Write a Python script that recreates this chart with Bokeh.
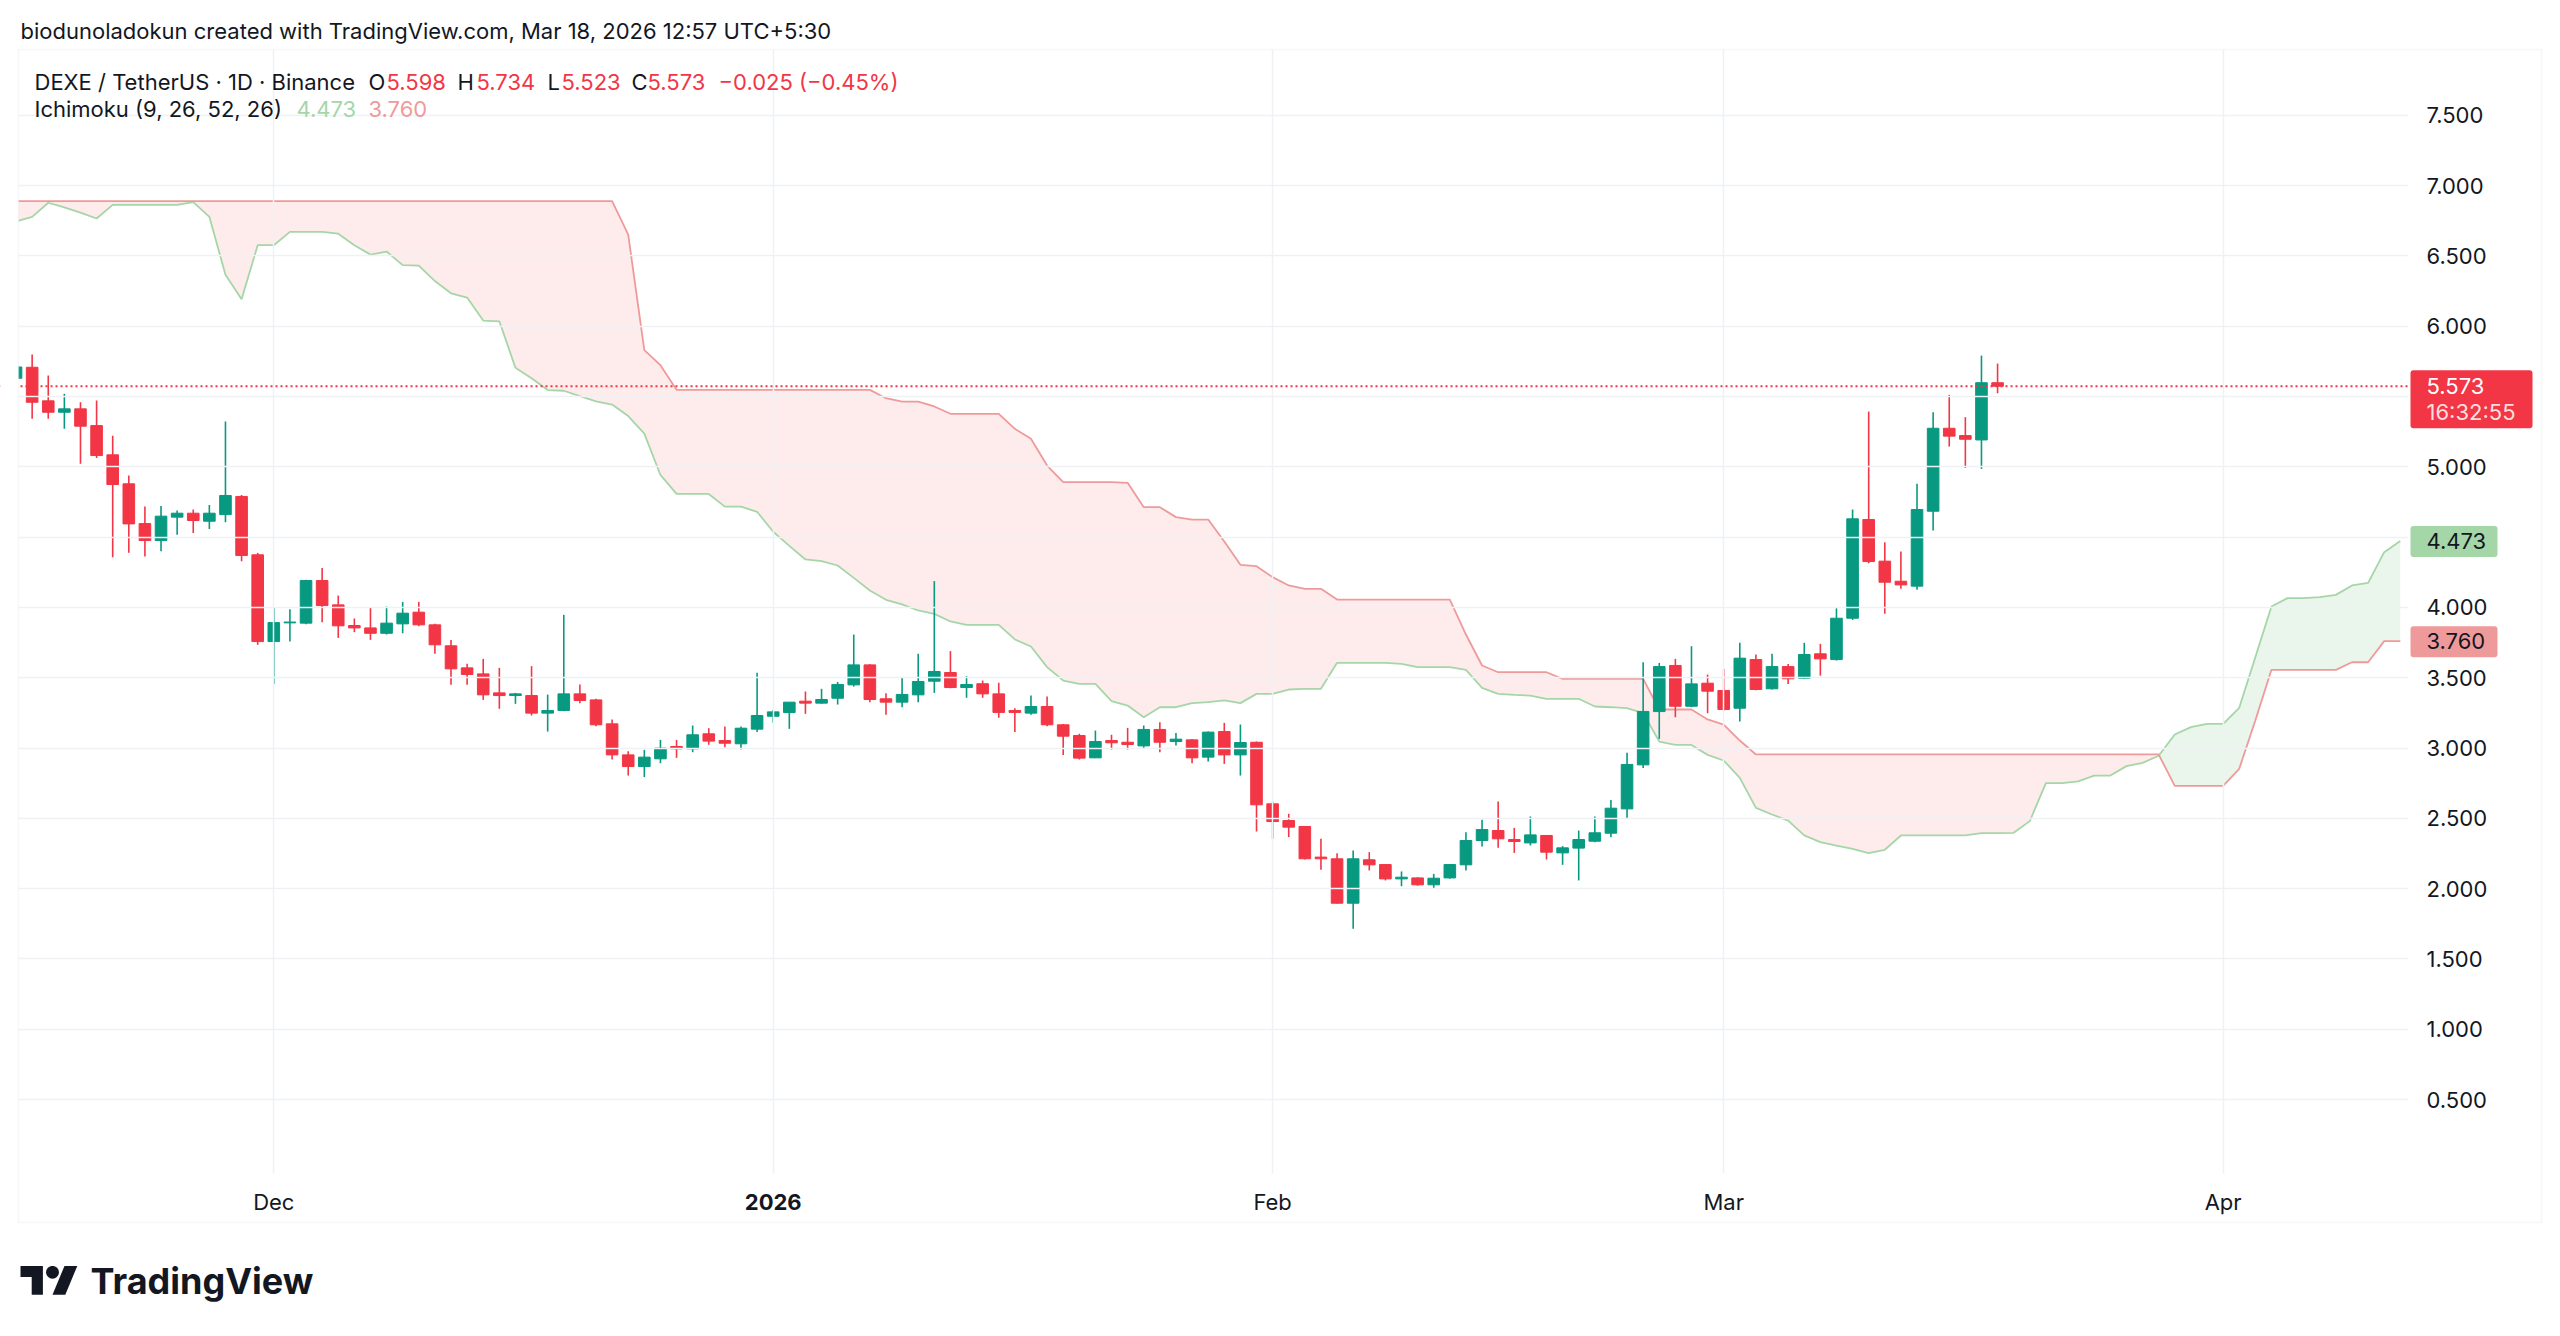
import numpy as np
import pandas as pd
from bokeh.plotting import figure
from bokeh.models import (ColumnDataSource, LinearAxis, FixedTicker, Grid, Span, Label,
                          BoxAnnotation, PolyAnnotation, Range1d, NumeralTickFormatter)
from bokeh.embed import file_html
from bokeh.resources import INLINE

# ---------------------------------------------------------------- data
# DEXE / TetherUS, 1D candles (Binance), 2025-11-15 .. 2026-03-18
first_day = "2025-11-15"
opens = [
    5.630, 5.708, 5.469, 5.388, 5.412, 5.293, 5.085, 4.879, 4.596, 4.476,
    4.642, 4.670, 4.613, 4.660, 4.789, 4.374,
    3.757, 3.890, 3.888, 4.191, 4.018, 3.871, 3.854, 3.816, 3.883, 3.966,
    3.876, 3.727, 3.570, 3.527, 3.392, 3.373, 3.373, 3.248, 3.267, 3.385,
    3.342, 3.172, 2.951, 2.868, 2.923, 3.011, 2.994, 3.101, 3.053, 3.030, 3.134,
    3.226, 3.252, 3.333, 3.319, 3.354, 3.449, 3.591, 3.350, 3.326, 3.378,
    3.475, 3.537, 3.430, 3.457, 3.385, 3.267, 3.248, 3.295, 3.165, 3.089,
    2.930, 3.053, 3.041, 3.015, 3.132, 3.046, 3.058, 2.935, 3.117, 2.951, 3.041,
    2.603, 2.484, 2.442, 2.224, 2.212, 1.896, 2.205, 2.171, 2.069, 2.076,
    2.027, 2.076, 2.169, 2.342, 2.413, 2.349, 2.325, 2.378, 2.254, 2.288,
    2.337, 2.394, 2.567, 2.880, 3.259, 3.587, 3.297, 3.461,
    3.409, 3.283, 3.629, 3.421, 3.579, 3.496, 3.670, 3.629, 3.923, 4.625,
    4.329, 4.186, 4.151, 4.684, 5.274, 5.222, 5.191, 5.598,
]
highs = [
    5.750, 5.798, 5.649, 5.519, 5.459, 5.471, 5.220, 4.938, 4.717, 4.722,
    4.689, 4.696, 4.729, 5.322, 4.800, 4.388,
    4.001, 3.987, 4.196, 4.281, 4.084, 3.921, 4.001, 4.006, 4.039, 4.039,
    3.883, 3.769, 3.599, 3.634, 3.570, 3.392, 3.582, 3.380, 3.947, 3.452,
    3.350, 3.203, 2.977, 2.987, 3.058, 3.058, 3.160, 3.141, 3.153, 3.153, 3.535,
    3.271, 3.326, 3.402, 3.421, 3.470, 3.807, 3.595, 3.390, 3.504, 3.670,
    4.187, 3.689, 3.511, 3.480, 3.464, 3.283, 3.373, 3.366, 3.170, 3.101,
    3.124, 3.094, 3.143, 3.160, 3.184, 3.106, 3.062, 3.117, 3.179, 3.167, 3.046,
    2.620, 2.532, 2.445, 2.354, 2.252, 2.271, 2.259, 2.173, 2.122, 2.080,
    2.105, 2.173, 2.401, 2.489, 2.620, 2.432, 2.513, 2.380, 2.302, 2.413,
    2.513, 2.631, 2.966, 3.610, 3.605, 3.634, 3.724, 3.522,
    3.563, 3.748, 3.665, 3.670, 3.598, 3.748, 3.741, 3.994, 4.696, 5.393,
    4.464, 4.397, 4.879, 5.388, 5.512, 5.353, 5.791, 5.734,
]
lows = [
    5.600, 5.341, 5.341, 5.270, 5.021, 5.063, 4.357, 4.388, 4.362, 4.400,
    4.516, 4.530, 4.558, 4.606, 4.329, 3.734,
    3.456, 3.757, 3.880, 3.895, 3.783, 3.824, 3.769, 3.807, 3.816, 3.866,
    3.670, 3.449, 3.449, 3.342, 3.279, 3.314, 3.231, 3.117, 3.262, 3.319,
    3.155, 2.918, 2.804, 2.793, 2.892, 2.930, 2.970, 3.023, 3.006, 2.989, 3.113,
    3.179, 3.136, 3.243, 3.315, 3.309, 3.437, 3.326, 3.236, 3.290, 3.326,
    3.392, 3.425, 3.357, 3.357, 3.215, 3.113, 3.236, 3.155, 2.951, 2.918,
    2.928, 2.989, 2.989, 3.001, 2.970, 3.018, 2.892, 2.904, 2.887, 2.804, 2.406,
    2.354, 2.366, 2.207, 2.134, 1.894, 1.714, 2.129, 2.058, 2.017, 2.020,
    1.998, 2.070, 2.129, 2.299, 2.290, 2.254, 2.307, 2.207, 2.169, 2.058,
    2.330, 2.366, 2.503, 2.857, 3.065, 3.219, 3.290, 3.247,
    3.266, 3.188, 3.410, 3.416, 3.456, 3.490, 3.515, 3.622, 3.911, 4.314,
    3.954, 4.132, 4.125, 4.547, 5.144, 4.992, 4.985, 5.523,
]
closes = [
    5.710, 5.459, 5.388, 5.412, 5.289, 5.080, 4.874, 4.594, 4.476, 4.649,
    4.670, 4.618, 4.670, 4.796, 4.369, 3.757,
    3.892, 3.896, 4.191, 4.013, 3.869, 3.854, 3.816, 3.888, 3.959, 3.876,
    3.734, 3.563, 3.523, 3.378, 3.373, 3.385, 3.248, 3.267, 3.385, 3.338,
    3.165, 2.951, 2.868, 2.935, 2.999, 2.994, 3.094, 3.049, 3.034, 3.141, 3.231,
    3.257, 3.326, 3.319, 3.345, 3.452, 3.591, 3.345, 3.326, 3.381, 3.473,
    3.544, 3.430, 3.452, 3.385, 3.253, 3.253, 3.295, 3.165, 3.084, 2.928,
    3.046, 3.037, 3.025, 3.132, 3.041, 3.063, 2.930, 3.113, 2.951, 3.039, 2.596,
    2.477, 2.437, 2.212, 2.212, 1.896, 2.212, 2.169, 2.069, 2.081, 2.027,
    2.074, 2.171, 2.342, 2.420, 2.354, 2.335, 2.382, 2.259, 2.290, 2.349,
    2.397, 2.572, 2.883, 3.260, 3.579, 3.297, 3.456, 3.404,
    3.274, 3.639, 3.416, 3.579, 3.492, 3.665, 3.634, 3.923, 4.630, 4.326,
    4.179, 4.160, 4.696, 5.274, 5.218, 5.196, 5.598, 5.573,
]

# Ichimoku (9, 26, 52, 26) leading spans, shifted 26 bars ahead: 2025-11-15 .. 2026-04-12
span_a = [
    6.745, 6.778, 6.878, 6.845, 6.808, 6.766, 6.863, 6.863, 6.863, 6.863,
    6.863, 6.883, 6.778, 6.366, 6.192, 6.576,
    6.576, 6.671, 6.671, 6.671, 6.658, 6.576, 6.509, 6.531, 6.434, 6.431,
    6.321, 6.234, 6.204, 6.040, 6.035, 5.705, 5.630, 5.546, 5.541, 5.503,
    5.466, 5.443, 5.361, 5.236, 4.942, 4.807, 4.807, 4.807, 4.717, 4.717, 4.680,
    4.538, 4.438, 4.341, 4.329, 4.298, 4.210, 4.120, 4.054, 4.021, 3.978,
    3.954, 3.900, 3.876, 3.876, 3.876, 3.772, 3.722, 3.575, 3.480, 3.456,
    3.456, 3.333, 3.302, 3.219, 3.290, 3.290, 3.319, 3.326, 3.338, 3.319, 3.385,
    3.385, 3.416, 3.421, 3.421, 3.606, 3.606, 3.606, 3.606, 3.599, 3.575,
    3.575, 3.575, 3.556, 3.428, 3.385, 3.378, 3.373, 3.350, 3.350, 3.350,
    3.295, 3.290, 3.283, 3.248, 3.046, 3.022, 3.022, 2.951,
    2.911, 2.788, 2.574, 2.527, 2.484, 2.378, 2.330, 2.306, 2.283, 2.252,
    2.276, 2.378, 2.378, 2.378, 2.378, 2.378, 2.394, 2.394, 2.397, 2.480,
    2.750, 2.750, 2.762, 2.804, 2.804, 2.871, 2.894, 2.945, 3.096, 3.148, 3.172,
    3.172, 3.286, 3.646, 4.006, 4.066, 4.066, 4.073, 4.089, 4.156, 4.175,
    4.393, 4.473,
]
span_b = [
    6.890, 6.890, 6.890, 6.890, 6.890, 6.890, 6.890, 6.890, 6.890, 6.890,
    6.890, 6.890, 6.890, 6.890, 6.890, 6.890,
    6.890, 6.890, 6.890, 6.890, 6.890, 6.890, 6.890, 6.890, 6.890, 6.890,
    6.890, 6.890, 6.890, 6.890, 6.890, 6.890, 6.890, 6.890, 6.890, 6.890,
    6.890, 6.890, 6.651, 5.830, 5.723, 5.548, 5.547, 5.547, 5.547, 5.547, 5.547,
    5.547, 5.547, 5.547, 5.547, 5.547, 5.547, 5.547, 5.488, 5.464, 5.464,
    5.429, 5.377, 5.377, 5.377, 5.377, 5.270, 5.199, 5.009, 4.891, 4.891,
    4.891, 4.891, 4.886, 4.713, 4.713, 4.642, 4.625, 4.625, 4.469, 4.303, 4.293,
    4.215, 4.156, 4.132, 4.132, 4.056, 4.056, 4.056, 4.056, 4.056, 4.056,
    4.056, 4.056, 3.807, 3.587, 3.539, 3.539, 3.539, 3.539, 3.492, 3.492,
    3.492, 3.492, 3.492, 3.492, 3.274, 3.274, 3.274, 3.203,
    3.167, 3.053, 2.954, 2.954, 2.954, 2.954, 2.954, 2.954, 2.954, 2.954,
    2.954, 2.954, 2.954, 2.954, 2.954, 2.954, 2.954, 2.954, 2.954, 2.954,
    2.954, 2.954, 2.954, 2.954, 2.954, 2.954, 2.954, 2.954, 2.731, 2.731, 2.731,
    2.731, 2.852, 3.196, 3.556, 3.556, 3.556, 3.556, 3.556, 3.610, 3.610,
    3.760, 3.760,
]

price_ticks = [0.5, 1.0, 1.5, 2.0, 2.5, 3.0, 3.5, 4.0, 4.5, 5.0, 5.5, 6.0, 6.5, 7.0, 7.5]
month_ticks = ["2025-12-01", "2026-01-01", "2026-02-01", "2026-03-01", "2026-04-01"]
month_labels = ["Dec", "2026", "Feb", "Mar", "Apr"]
year_tick = "2026"

symbol_text = "DEXE / TetherUS \u00b7 1D \u00b7 Binance"
indicator_text = "Ichimoku (9, 26, 52, 26)"
credit_text = "biodunoladokun created with TradingView.com, Mar 18, 2026 12:57 UTC+5:30"
countdown_text = "16:32:55"

# ---------------------------------------------------------------- style
UP, DOWN = "#089981", "#F23645"
SPAN_A_COLOR, SPAN_B_COLOR = "#A5D6A7", "#EF9A9A"
INK = "#131722"
GRID = "#EFF1F5"
FONT = "Inter"
DAY_MS = 86400000

W, H = 2560, 1336
# price pane inside the canvas (pixels from the top-left corner)
PANE_L, PANE_R, PANE_T, PANE_B = 18, 2408, 49, 1173
PX_PER_DAY = 16.11
PX_PER_UNIT = 140.6
DEC1_PX, Y55_PX = 273.3, 396.0    # where 2025-12-01 and the 5.5 level sit


def sx(px):
    return px


def sy(py):
    return H - py


def ms(day):
    return int(pd.Timestamp(day).value // 10**6)


dec1 = ms("2025-12-01")


def x_at(px):
    return dec1 + (px - DEC1_PX) / PX_PER_DAY * DAY_MS


def y_at(py):
    return 5.5 - (py - Y55_PX) / PX_PER_UNIT


dates = pd.date_range(first_day, periods=len(opens), freq="D")
cloud_dates = pd.date_range(first_day, periods=len(span_a), freq="D")

o = np.array(opens)
c = np.array(closes)
src = ColumnDataSource(dict(
    date=dates, open=o, high=highs, low=lows, close=c,
    top=np.maximum(o, c), bottom=np.minimum(o, c),
    color=[UP if cc >= oo else DOWN for oo, cc in zip(opens, closes)],
))

# the frame spans the whole canvas; axes sit at fixed positions inside it
p = figure(
    width=W, height=H, output_backend="svg", toolbar_location=None,
    x_axis_type=None, y_axis_type=None,
    x_range=Range1d(x_at(0), x_at(W)),
    y_range=Range1d(y_at(H), y_at(0)),
    min_border=0, min_border_left=0, min_border_right=0,
    min_border_top=0, min_border_bottom=0,
    background_fill_color="white", border_fill_color="white",
    outline_line_color=None,
)

yticker = FixedTicker(ticks=price_ticks)
yax = LinearAxis(ticker=yticker, formatter=NumeralTickFormatter(format="0.000"),
                 fixed_location=x_at(PANE_R))
xticker = FixedTicker(ticks=[ms(t) for t in month_ticks])
xax = LinearAxis(ticker=xticker, fixed_location=y_at(PANE_B),
                 major_label_overrides={ms(t): ("" if lab == year_tick else lab)
                                        for t, lab in zip(month_ticks, month_labels)})
for ax in (xax, yax):
    ax.axis_line_color = None
    ax.major_tick_line_color = None
    ax.minor_tick_line_color = None
    ax.major_tick_out = 0
    ax.major_tick_in = 0
    ax.major_label_text_font = FONT
    ax.major_label_text_font_size = "22px"
    ax.major_label_text_color = INK
yax.major_label_standoff = 18
xax.major_label_standoff = 15
p.add_layout(yax, "right")
p.add_layout(xax, "below")
p.add_layout(Grid(dimension=0, ticker=xticker, grid_line_color=GRID, grid_line_width=1.5))
p.add_layout(Grid(dimension=1, ticker=yticker, grid_line_color=GRID, grid_line_width=1.5))

# last price line
last = closes[-1]
p.add_layout(Span(location=last, dimension="width", line_color=DOWN,
                  line_dash="2 3", line_width=2, level="underlay"))

# Ichimoku cloud: fill between the spans, split where they cross
t = cloud_dates.values.astype("datetime64[ms]").astype(np.int64).astype(float)
a = np.array(span_a)
b = np.array(span_b)
xs, ya, yb = [t[0]], [a[0]], [b[0]]
for i in range(1, len(t)):
    d0, d1 = a[i - 1] - b[i - 1], a[i] - b[i]
    if d0 * d1 < 0:
        f = d0 / (d0 - d1)
        xc = t[i - 1] + f * (t[i] - t[i - 1])
        yc = a[i - 1] + f * (a[i] - a[i - 1])
        xs.append(xc); ya.append(yc); yb.append(yc)
    xs.append(t[i]); ya.append(a[i]); yb.append(b[i])
ya, yb = np.array(ya), np.array(yb)
upper = np.maximum(ya, yb)
p.varea(x=xs, y1=ya, y2=upper, fill_color=DOWN, fill_alpha=0.1, level="underlay")
p.varea(x=xs, y1=yb, y2=upper, fill_color="#43A047", fill_alpha=0.11, level="underlay")
p.line(t, a, line_color=SPAN_A_COLOR, line_width=1.8, level="underlay")
p.line(t, b, line_color=SPAN_B_COLOR, line_width=1.8, level="underlay")

# candles
p.segment(x0="date", y0="low", x1="date", y1="high", line_color="color",
          line_width=1.6, source=src, level="underlay")
p.vbar(x="date", width=0.72 * DAY_MS, top="top", bottom="bottom",
       fill_color="color", line_color="color", line_width=1, source=src,
       level="underlay")


def box(left, right, top, bottom, **kw):
    kw.setdefault("left_units", "screen")
    kw.setdefault("right_units", "screen")
    kw.setdefault("top_units", "screen")
    kw.setdefault("bottom_units", "screen")
    p.add_layout(BoxAnnotation(left=left, right=right, top=top, bottom=bottom, **kw))


# white margins around the price pane (clip the grid, cloud and candles)
mask = dict(fill_color="white", fill_alpha=1.0, line_color=None, level="glyph")
box(0, PANE_L, H, 0, **mask)
box(PANE_R, W, H, 0, **mask)
box(0, W, H, sy(PANE_T), **mask)
box(0, W, sy(PANE_B), 0, **mask)

# pane border
box(sx(18), sx(2541), sy(49), sy(1222), fill_color=None, line_color="#E0E3EB",
    line_width=1.5)


def label(text, x, y, size, color, bold=False, xu="screen", yu="screen",
          align="left", alpha=1.0, y_offset=0):
    p.add_layout(Label(x=x, y=y, x_units=xu, y_units=yu, text=text,
                       text_font=FONT, text_font_size=f"{size}px",
                       text_color=color, text_alpha=alpha,
                       text_font_style="bold" if bold else "normal",
                       text_align=align, text_baseline="middle",
                       y_offset=y_offset))


# price scale badges
def badge(val, up_px, down_px, right_px, color):
    box(sx(2410), sx(right_px), val + up_px / PX_PER_UNIT, val - down_px / PX_PER_UNIT,
        top_units="data", bottom_units="data",
        fill_color=color, fill_alpha=1.0, line_color=None, border_radius=3)


badge(last, 16, 42, 2532, DOWN)
label(f"{last:.3f}", sx(2426), last, 22, "white", yu="data")
label(countdown_text, sx(2426), last, 22, "white", yu="data", alpha=0.85, y_offset=-26)
badge(span_a[-1], 15, 16, 2497, SPAN_A_COLOR)
label(f"{span_a[-1]:.3f}", sx(2426), span_a[-1], 22, INK, yu="data")
badge(span_b[-1], 15, 16, 2497, SPAN_B_COLOR)
label(f"{span_b[-1]:.3f}", sx(2426), span_b[-1], 22, INK, yu="data")

# bold year label on the time axis
label(year_tick, ms("2026-01-01"), sy(1201), 22, INK, bold=True, xu="data", align="center")

# header lines
label(credit_text, sx(20), sy(30), 22, INK)
label(symbol_text, sx(34), sy(81), 22, INK)
chg = closes[-1] - closes[-2]
pct = chg / closes[-2] * 100
fmt = lambda v: f"{v:.3f}".replace("-", "\u2212")
pieces = [("O", 368, INK), (fmt(opens[-1]), 386, DOWN),
          ("H", 457, INK), (fmt(highs[-1]), 476, DOWN),
          ("L", 547, INK), (fmt(lows[-1]), 561, DOWN),
          ("C", 631, INK), (fmt(closes[-1]), 647, DOWN),
          (f"{fmt(chg)} ({pct:.2f}%)".replace("-", "\u2212"), 718, DOWN)]
for txt, xpx, col in pieces:
    label(txt, sx(xpx), sy(81), 22, col)
label(indicator_text, sx(34), sy(108), 22, INK)
label(fmt(span_a[-1]), sx(296), sy(108), 22, SPAN_A_COLOR)
label(fmt(span_b[-1]), sx(368), sy(108), 22, SPAN_B_COLOR)

# TradingView wordmark
S, X0, Y0 = 1.6, 20, 1259


def logo_poly(pts):
    p.add_layout(PolyAnnotation(xs=[sx(X0 + u * S) for u, v in pts],
                                ys=[sy(Y0 + v * S) for u, v in pts],
                                xs_units="screen", ys_units="screen",
                                fill_color=INK, fill_alpha=1.0, line_color=None))


logo_poly([(0, 4), (14, 4), (14, 22), (7, 22), (7, 11), (0, 11)])
logo_poly([(20, 22), (27.5, 4), (35.5, 4), (28, 22)])
ang = np.linspace(0, 2 * np.pi, 32, endpoint=False)
logo_poly(list(zip(20 + 4 * np.cos(ang), 8 + 4 * np.sin(ang))))
label("TradingView", sx(90), sy(1280), 36, INK, bold=True)

open("out.html", "w").write(file_html(p, INLINE))
